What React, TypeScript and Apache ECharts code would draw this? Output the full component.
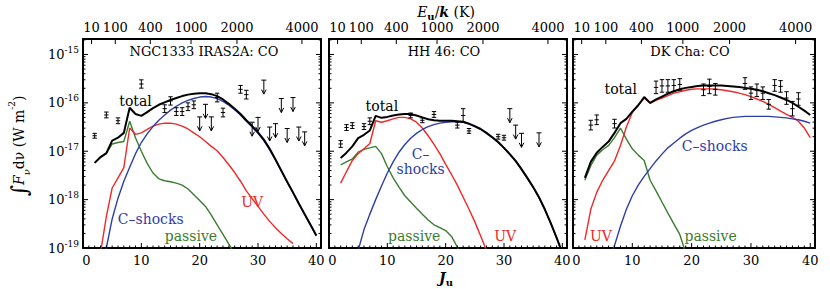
import { useEffect, useRef } from 'react';
import * as echarts from 'echarts';

// ---------------- style constants ----------------
const FONT = '"DejaVu Serif", serif';
const BLACK = '#000000';
const RED = '#f02828';
const BLUE = '#2e3ea6';
const GREEN = '#3a7d2e';

// ---------------- axes ----------------
const X_MIN = 0;
const X_MAX = 40.8;
const Y_MIN = -19; // log10(W m^-2)
const Y_MAX = -14.68;
const Y_DECADES = [-19, -18, -17, -16, -15];
const Y_MINOR_MANTISSAS = [2, 3, 4, 5, 6, 7, 8, 9];
const X_LABEL_STEP = 10;
const EUK_TICK_LABELS = [10, 100, 400, 1000, 2000, 4000]; // E_u/k in K
const CO_B_K = 2.766; // CO rotational constant (K): E_u/k = B J(J+1)
const jFromEnergy = (e: number) => (Math.sqrt(1 + (4 * e) / CO_B_K) - 1) / 2;
const EUK_TICK_J = EUK_TICK_LABELS.map(jFromEnergy);

// ---------------- NGC1333 IRAS2A (log10 flux, W m^-2) ----------------
const IRAS2A_DET_J = [2, 4, 6, 10, 14, 15, 16, 17, 18, 19, 23, 24, 27, 28];
const IRAS2A_DET_LOG = [-16.68, -16.25, -16.37, -15.61, -16.12, -15.96, -16.18, -16.18, -16.08, -16.04, -15.89, -16.2, -15.72, -15.83];
const IRAS2A_DET_ERR = [0.05, 0.06, 0.06, 0.086, 0.08, 0.086, 0.08, 0.08, 0.08, 0.08, 0.09, 0.09, 0.08, 0.09];
const IRAS2A_UL_J = [20, 21, 22, 29, 30, 31, 32, 33, 34, 35, 36, 37, 38];
const IRAS2A_UL_LOG = [-16.29, -16.03, -16.29, -16.4, -16.3, -15.53, -16.5, -16.43, -15.91, -16.53, -15.89, -16.5, -16.6];
const IRAS2A_TOTAL_J0 = 2;
const IRAS2A_TOTAL = [-17.24, -17.12, -17.04, -16.78, -16.72, -16.62, -16.1, -16.23, -16.27, -16.19, -16.11, -16.04, -15.99, -15.94, -15.9, -15.86, -15.83, -15.81, -15.8, -15.8, -15.82, -15.86, -15.93, -16.02, -16.12, -16.23, -16.36, -16.48, -16.61, -16.76, -16.95, -17.17, -17.4, -17.63, -17.85, -18.08, -18.3, -18.52, -18.74];
const IRAS2A_UV_J0 = 3;
const IRAS2A_UV = [-19.1, -18.35, -17.76, -17.55, -17.34, -16.52, -16.65, -16.62, -16.55, -16.48, -16.44, -16.42, -16.42, -16.44, -16.48, -16.54, -16.62, -16.7, -16.8, -16.9, -16.99, -17.13, -17.28, -17.44, -17.62, -17.82, -17.98, -18.14, -18.3, -18.45, -18.58, -18.7, -18.81, -18.91];
const IRAS2A_CSHOCK_J0 = 3;
const IRAS2A_CSHOCK = [-19.6, -19.0, -18.4, -17.97, -17.62, -17.33, -17.05, -16.82, -16.64, -16.49, -16.36, -16.25, -16.15, -16.07, -16.0, -15.95, -15.91, -15.88, -15.87, -15.88, -15.91, -15.97, -16.05, -16.14, -16.25, -16.38, -16.5, -16.63, -16.78, -16.97, -17.18, -17.41, -17.64, -17.86, -18.09, -18.31, -18.53, -18.75];
const IRAS2A_PASSIVE_J0 = 2;
const IRAS2A_PASSIVE = [-17.24, -17.13, -17.05, -16.85, -16.82, -16.8, -16.38, -16.72, -17.0, -17.25, -17.45, -17.57, -17.61, -17.63, -17.66, -17.7, -17.78, -17.9, -18.02, -18.14, -18.32, -18.52, -18.72, -18.92, -19.12];
const IRAS2A_LABEL_TEXT = ['total', 'C–shocks', 'passive', 'UV'];
const IRAS2A_LABEL_J = [9.0, 11.6, 18.5, 29.0];
const IRAS2A_LABEL_LOG = [-15.96, -18.41, -18.76, -18.04];

// ---------------- HH 46 ----------------
const HH46_DET_J = [2, 3, 4, 6, 7, 14, 16, 18, 22, 23, 24, 29, 30];
const HH46_DET_LOG = [-16.85, -16.51, -16.47, -16.49, -16.38, -16.26, -16.36, -16.24, -16.46, -16.26, -16.58, -16.7, -16.72];
const HH46_DET_ERR = [0.07, 0.06, 0.06, 0.06, 0.07, 0.05, 0.05, 0.06, 0.06, 0.14, 0.05, 0.05, 0.05];
const HH46_UL_J = [31, 32, 33, 36];
const HH46_UL_LOG = [-16.12, -16.46, -16.63, -16.62];
const HH46_TOTAL_J0 = 2;
const HH46_TOTAL = [-17.14, -17.03, -16.9, -16.73, -16.66, -16.57, -16.27, -16.31, -16.29, -16.26, -16.24, -16.23, -16.23, -16.26, -16.3, -16.34, -16.36, -16.37, -16.37, -16.37, -16.38, -16.39, -16.43, -16.48, -16.54, -16.62, -16.71, -16.81, -16.93, -17.06, -17.2, -17.37, -17.55, -17.74, -17.95, -18.2, -18.48, -18.78, -19.1];
const HH46_UV_J0 = 2;
const HH46_UV = [-17.66, -17.42, -17.19, -17.05, -16.95, -16.84, -16.37, -16.4, -16.37, -16.33, -16.3, -16.3, -16.33, -16.4, -16.52, -16.68, -16.86, -17.05, -17.27, -17.48, -17.7, -17.95, -18.2, -18.46, -18.75, -19.05];
const HH46_CSHOCK_J0 = 5;
const HH46_CSHOCK = [-19.05, -18.62, -18.3, -18.0, -17.72, -17.45, -17.22, -17.02, -16.86, -16.73, -16.63, -16.55, -16.49, -16.45, -16.42, -16.4, -16.39, -16.39, -16.4, -16.44, -16.49, -16.55, -16.63, -16.72, -16.82, -16.94, -17.07, -17.21, -17.38, -17.56, -17.75, -17.96, -18.21, -18.49, -18.79, -19.11];
const HH46_PASSIVE_J0 = 2;
const HH46_PASSIVE = [-17.28, -17.22, -17.16, -17.02, -16.96, -16.93, -16.9, -17.05, -17.32, -17.55, -17.74, -17.92, -18.05, -18.18, -18.3, -18.42, -18.52, -18.58, -18.64, -18.76, -18.98, -19.3];
const HH46_LABEL_TEXT = ['total', 'C–\nshocks', 'passive', 'UV'];
const HH46_LABEL_J = [9.06, 15.7, 14.6, 30.2];
const HH46_LABEL_LOG = [-16.07, -17.22, -18.76, -18.76];

// ---------------- DK Cha ----------------
const DKCHA_DET_J = [3, 4, 7, 14, 15, 16, 17, 18, 22, 23, 24, 29, 30, 31, 32, 33, 34, 35, 36, 37, 38];
const DKCHA_DET_LOG = [-16.46, -16.35, -16.43, -15.68, -15.65, -15.65, -15.64, -15.62, -15.73, -15.66, -15.72, -15.6, -15.8, -15.74, -15.8, -16.03, -15.64, -15.66, -15.9, -16.12, -15.92];
const DKCHA_DET_ERR = [0.1, 0.1, 0.09, 0.13, 0.13, 0.13, 0.12, 0.12, 0.12, 0.15, 0.12, 0.12, 0.13, 0.13, 0.13, 0.1, 0.12, 0.12, 0.13, 0.15, 0.13];
const DKCHA_UL_J: number[] = [];
const DKCHA_UL_LOG: number[] = [];
const DKCHA_TOTAL_J0 = 2;
const DKCHA_TOTAL = [-17.55, -17.22, -17.03, -16.91, -16.8, -16.62, -16.42, -16.33, -16.18, -16.05, -15.88, -16.0, -15.93, -15.87, -15.81, -15.76, -15.72, -15.69, -15.67, -15.65, -15.64, -15.64, -15.64, -15.64, -15.65, -15.66, -15.67, -15.69, -15.71, -15.73, -15.76, -15.8, -15.84, -15.89, -15.94, -16.0, -16.08, -16.16, -16.25];
const DKCHA_UV_J0 = 2;
const DKCHA_UV = [-18.83, -18.2, -17.85, -17.6, -17.4, -17.2, -16.88, -16.5, -16.2, -16.05, -15.9, -16.01, -15.95, -15.9, -15.85, -15.8, -15.77, -15.74, -15.72, -15.71, -15.71, -15.71, -15.72, -15.73, -15.75, -15.77, -15.8, -15.83, -15.87, -15.92, -15.97, -16.03, -16.1, -16.17, -16.24, -16.3, -16.38, -16.52, -16.72];
const DKCHA_CSHOCK_J0 = 6;
const DKCHA_CSHOCK = [-19.25, -18.95, -18.55, -18.2, -17.92, -17.7, -17.52, -17.36, -17.2, -17.06, -16.93, -16.83, -16.73, -16.64, -16.57, -16.51, -16.46, -16.42, -16.38, -16.35, -16.32, -16.3, -16.29, -16.28, -16.28, -16.28, -16.28, -16.28, -16.29, -16.3, -16.31, -16.33, -16.35, -16.38, -16.42];
const DKCHA_PASSIVE_J0 = 2;
const DKCHA_PASSIVE = [-17.6, -17.3, -17.08, -16.97, -16.88, -16.72, -16.52, -16.75, -16.95, -17.08, -17.19, -17.6, -17.82, -18.05, -18.28, -18.5, -18.72, -19.1];
const DKCHA_LABEL_TEXT = ['total', 'C–shocks', 'UV', 'passive'];
const DKCHA_LABEL_J = [8.06, 23.9, 4.7, 23.2];
const DKCHA_LABEL_LOG = [-15.72, -16.9, -18.76, -18.76];

// ---------------- layout ----------------
const GRID_TOP = 39;
const GRID_HEIGHT = 209;
const MAJOR_TICK = 5;
const MINOR_TICK = 2.5;

const PANELS = [
  {
    title: 'NGC1333 IRAS2A: CO', titleX: 204, left: 83, width: 238,
    detJ: IRAS2A_DET_J, detLog: IRAS2A_DET_LOG, detErr: IRAS2A_DET_ERR,
    ulJ: IRAS2A_UL_J, ulLog: IRAS2A_UL_LOG,
    total: [IRAS2A_TOTAL_J0, IRAS2A_TOTAL], uv: [IRAS2A_UV_J0, IRAS2A_UV],
    cshock: [IRAS2A_CSHOCK_J0, IRAS2A_CSHOCK], passive: [IRAS2A_PASSIVE_J0, IRAS2A_PASSIVE],
    labText: IRAS2A_LABEL_TEXT, labJ: IRAS2A_LABEL_J, labLog: IRAS2A_LABEL_LOG,
  },
  {
    title: 'HH 46: CO', titleX: 444, left: 329, width: 238,
    detJ: HH46_DET_J, detLog: HH46_DET_LOG, detErr: HH46_DET_ERR,
    ulJ: HH46_UL_J, ulLog: HH46_UL_LOG,
    total: [HH46_TOTAL_J0, HH46_TOTAL], uv: [HH46_UV_J0, HH46_UV],
    cshock: [HH46_CSHOCK_J0, HH46_CSHOCK], passive: [HH46_PASSIVE_J0, HH46_PASSIVE],
    labText: HH46_LABEL_TEXT, labJ: HH46_LABEL_J, labLog: HH46_LABEL_LOG,
  },
  {
    title: 'DK Cha: CO', titleX: 690, left: 573, width: 242,
    detJ: DKCHA_DET_J, detLog: DKCHA_DET_LOG, detErr: DKCHA_DET_ERR,
    ulJ: DKCHA_UL_J, ulLog: DKCHA_UL_LOG,
    total: [DKCHA_TOTAL_J0, DKCHA_TOTAL], uv: [DKCHA_UV_J0, DKCHA_UV],
    cshock: [DKCHA_CSHOCK_J0, DKCHA_CSHOCK], passive: [DKCHA_PASSIVE_J0, DKCHA_PASSIVE],
    labText: DKCHA_LABEL_TEXT, labJ: DKCHA_LABEL_J, labLog: DKCHA_LABEL_LOG,
  },
];

const COLOR_TEXT = { total: BLACK, 'C–shocks': BLUE, 'C–\nshocks': BLUE, passive: GREEN, UV: RED } as Record<string, string>;

const toPairs = (j0: number, vals: number[]) => vals.map((v, i) => [j0 + i, v]);

function tickRenderer(params: any, api: any) {
  if (params.dataIndex !== 0) return null;
  const cs = params.coordSys;
  const left = cs.x, right = cs.x + cs.width, top = cs.y, bottom = cs.y + cs.height;
  const st = { stroke: BLACK, lineWidth: 1 };
  const children: any[] = [];
  const h = (x1: number, y: number, x2: number) => children.push({ type: 'line', shape: { x1, y1: y, x2, y2: y }, style: st });
  const v = (x: number, y1: number, y2: number) => children.push({ type: 'line', shape: { x1: x, y1, x2: x, y2 }, style: st });
  Y_DECADES.forEach((n) => {
    const y = api.coord([X_MIN, n])[1];
    h(left, y, left + MAJOR_TICK);
    h(right, y, right - MAJOR_TICK);
    Y_MINOR_MANTISSAS.forEach((m) => {
      const val = n + Math.log10(m);
      if (val > Y_MAX) return;
      const ym = api.coord([X_MIN, val])[1];
      h(left, ym, left + MINOR_TICK);
      h(right, ym, right - MINOR_TICK);
    });
  });
  for (let j = 1; j <= Math.floor(X_MAX); j++) {
    const x = api.coord([j, Y_MIN])[0];
    v(x, bottom, bottom - (j % X_LABEL_STEP === 0 ? MAJOR_TICK : MINOR_TICK));
  }
  EUK_TICK_J.forEach((j) => {
    const x = api.coord([j, Y_MIN])[0];
    v(x, top, top + MAJOR_TICK);
  });
  return { type: 'group', children };
}

function errRenderer(params: any, api: any) {
  const j = api.value(0), val = api.value(1), e = api.value(2);
  const c = api.coord([j, val]);
  const hi = api.coord([j, val + e]);
  const lo = api.coord([j, val - e]);
  const w = 2.2;
  const st = { stroke: BLACK, lineWidth: 1 };
  return {
    type: 'group',
    children: [
      { type: 'line', shape: { x1: c[0], y1: hi[1], x2: c[0], y2: lo[1] }, style: st },
      { type: 'line', shape: { x1: c[0] - w, y1: hi[1], x2: c[0] + w, y2: hi[1] }, style: st },
      { type: 'line', shape: { x1: c[0] - w, y1: lo[1], x2: c[0] + w, y2: lo[1] }, style: st },
      { type: 'line', shape: { x1: c[0] - w, y1: c[1], x2: c[0] + w, y2: c[1] }, style: st },
    ],
  };
}

function ulRenderer(params: any, api: any) {
  const c = api.coord([api.value(0), api.value(1)]);
  const len = 14;
  const st = { stroke: BLACK, lineWidth: 1, fill: 'none' };
  return {
    type: 'group',
    children: [
      { type: 'line', shape: { x1: c[0] - 2.5, y1: c[1], x2: c[0] + 2.5, y2: c[1] }, style: st },
      { type: 'line', shape: { x1: c[0], y1: c[1], x2: c[0], y2: c[1] + len }, style: st },
      { type: 'polyline', shape: { points: [[c[0] - 2.3, c[1] + len - 4.5], [c[0], c[1] + len], [c[0] + 2.3, c[1] + len - 4.5]] }, style: st },
    ],
  };
}

function buildOption() {
  const grid: any[] = [];
  const xAxis: any[] = [];
  const yAxis: any[] = [];
  const series: any[] = [];
  const axisLine = { show: true, onZero: false, lineStyle: { color: BLACK, width: 2 } };
  const labelBase = { color: BLACK, fontFamily: FONT, fontSize: 13 };

  PANELS.forEach((p, i) => {
    grid.push({ left: p.left, top: GRID_TOP, width: p.width, height: GRID_HEIGHT, containLabel: false, outerBoundsMode: 'none' });
    xAxis.push({
      gridIndex: i, type: 'value', position: 'bottom', min: X_MIN, max: X_MAX, interval: X_LABEL_STEP,
      axisLine, axisTick: { show: false }, splitLine: { show: false },
      axisLabel: {
        ...labelBase, margin: 6, showMaxLabel: false,
        formatter: (v: number) => (v === 0 ? '{z|0}' : String(v)),
        rich: { z: { fontFamily: FONT, fontSize: 13, color: BLACK, padding: [0, 0, 0, 7] } },
      },
    });
    xAxis.push({
      gridIndex: i, type: 'value', position: 'top', min: X_MIN, max: X_MAX,
      axisLine, axisTick: { show: false }, splitLine: { show: false },
      axisLabel: {
        ...labelBase, margin: 5, customValues: EUK_TICK_J, showMinLabel: true, showMaxLabel: true,
        formatter: (v: number) => {
          const k = EUK_TICK_J.findIndex((t) => Math.abs(t - v) < 1e-3);
          return k >= 0 ? String(EUK_TICK_LABELS[k]) : '';
        },
      },
    });
    yAxis.push({
      gridIndex: i, type: 'value', position: 'left', min: Y_MIN, max: Y_MAX, interval: 1,
      axisLine, axisTick: { show: false }, splitLine: { show: false },
      axisLabel: {
        show: i === 0, margin: 4, showMaxLabel: false,
        formatter: (v: number) => `{b|10}{s|${Math.round(v)}}`,
        rich: {
          b: { fontFamily: FONT, fontSize: 13, color: BLACK, lineHeight: 18 },
          s: { fontFamily: FONT, fontSize: 9, color: BLACK, lineHeight: 10, verticalAlign: 'top' },
        },
      },
    });
    yAxis.push({
      gridIndex: i, type: 'value', position: 'right', min: Y_MIN, max: Y_MAX, interval: 1,
      axisLine, axisTick: { show: false }, splitLine: { show: false }, axisLabel: { show: false },
    });
    const xi = 2 * i, yi = 2 * i;
    series.push({ type: 'custom', name: `ticks${i}`, xAxisIndex: xi, yAxisIndex: yi, data: [[X_MIN, Y_MIN]], renderItem: tickRenderer, silent: true, z: 5 });
    const line = (name: string, pair: any, color: string, width: number, z: number) => ({
      type: 'line', name, xAxisIndex: xi, yAxisIndex: yi, data: toPairs(pair[0], pair[1]),
      showSymbol: false, symbol: 'none', clip: true, silent: true, z,
      lineStyle: { color, width }, itemStyle: { color },
    });
    series.push(line(`passive${i}`, p.passive, GREEN, 1.4, 2));
    series.push(line(`uv${i}`, p.uv, RED, 1.4, 2));
    series.push(line(`cshock${i}`, p.cshock, BLUE, 1.4, 2));
    series.push(line(`total${i}`, p.total, BLACK, 2, 3));
    series.push({
      type: 'custom', name: `obs${i}`, xAxisIndex: xi, yAxisIndex: yi,
      data: p.detJ.map((j, k) => [j, p.detLog[k], p.detErr[k]]),
      encode: { x: 0, y: 1 }, renderItem: errRenderer, silent: true, z: 4,
    });
    if (p.ulJ.length) {
      series.push({
        type: 'custom', name: `ul${i}`, xAxisIndex: xi, yAxisIndex: yi,
        data: p.ulJ.map((j, k) => [j, p.ulLog[k]]),
        encode: { x: 0, y: 1 }, renderItem: ulRenderer, silent: true, z: 4,
      });
    }
    series.push({
      type: 'custom', name: `labels${i}`, xAxisIndex: xi, yAxisIndex: yi,
      data: p.labJ.map((j, k) => [j, p.labLog[k]]),
      encode: { x: 0, y: 1 }, silent: true, z: 6,
      renderItem: (params: any, api: any) => {
        const c = api.coord([api.value(0), api.value(1)]);
        const text = p.labText[params.dataIndex];
        return {
          type: 'text', x: c[0], y: c[1],
          style: {
            text, fill: COLOR_TEXT[text] || BLACK, font: `14px ${FONT}`, lineHeight: 15,
            align: 'center', verticalAlign: 'middle', textAlign: 'center', textVerticalAlign: 'middle',
          },
        };
      },
    });
  });

  const graphic: any[] = PANELS.map((p) => ({
    type: 'text', x: p.titleX, y: 51, silent: true,
    style: { text: p.title, fill: BLACK, font: `13px ${FONT}`, align: 'center', verticalAlign: 'middle', textAlign: 'center', textVerticalAlign: 'middle' },
  }));
  graphic.push({
    type: 'text', x: 446, y: 12, silent: true,
    style: {
      text: '{e|E}{u|u}{n|/}{k|k}{n| (K)}', align: 'center', verticalAlign: 'middle', textAlign: 'center', textVerticalAlign: 'middle',
      rich: {
        e: { fontFamily: FONT, fontStyle: 'italic', fontSize: 14, fill: BLACK, lineHeight: 18 },
        k: { fontFamily: FONT, fontStyle: 'italic', fontWeight: 'bold', fontSize: 14, fill: BLACK, lineHeight: 18 },
        n: { fontFamily: FONT, fontSize: 14, fill: BLACK, lineHeight: 18 },
        u: { fontFamily: FONT, fontWeight: 'bold', fontSize: 10, fill: BLACK, lineHeight: 10, verticalAlign: 'bottom' },
      },
    },
  });
  graphic.push({
    type: 'text', x: 446, y: 278, silent: true,
    style: {
      text: '{j|J}{u|u}', align: 'center', verticalAlign: 'middle', textAlign: 'center', textVerticalAlign: 'middle',
      rich: {
        j: { fontFamily: FONT, fontStyle: 'italic', fontWeight: 'bold', fontSize: 14, fill: BLACK, lineHeight: 18 },
        u: { fontFamily: FONT, fontWeight: 'bold', fontSize: 10, fill: BLACK, lineHeight: 10, verticalAlign: 'bottom' },
      },
    },
  });
  graphic.push({
    type: 'text', x: 19, y: 146, rotation: Math.PI / 2, silent: true,
    style: {
      text: '{i|∫}{f|F}{s|ν}{n|dν (W m}{p|-2}{n|)}', align: 'center', verticalAlign: 'middle', textAlign: 'center', textVerticalAlign: 'middle',
      rich: {
        i: { fontFamily: FONT, fontSize: 22, fill: BLACK, lineHeight: 24 },
        f: { fontFamily: FONT, fontStyle: 'italic', fontSize: 14, fill: BLACK, lineHeight: 22 },
        s: { fontFamily: FONT, fontStyle: 'italic', fontSize: 10, fill: BLACK, lineHeight: 14, verticalAlign: 'bottom' },
        n: { fontFamily: FONT, fontSize: 14, fill: BLACK, lineHeight: 22 },
        p: { fontFamily: FONT, fontSize: 9, fill: BLACK, lineHeight: 14, verticalAlign: 'top' },
      },
    },
  });

  return {
    animation: false,
    backgroundColor: '#ffffff',
    textStyle: { fontFamily: FONT },
    grid, xAxis, yAxis, series, graphic,
  };
}

export default function App() {
  const ref = useRef<HTMLDivElement>(null);
  useEffect(() => {
    if (!ref.current) return;
    const chart = echarts.init(ref.current, null, { renderer: 'svg' });
    chart.setOption(buildOption() as any);
    return () => chart.dispose();
  }, []);
  return <div ref={ref} style={{ position: 'absolute', left: 0, top: 0, width: 830, height: 289 }} />;
}
